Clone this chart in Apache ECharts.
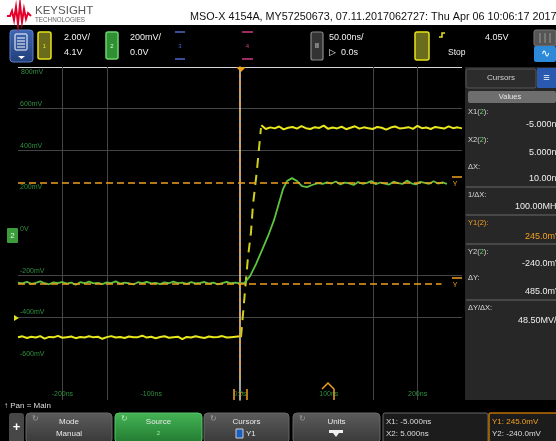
<!DOCTYPE html>
<html><head><meta charset="utf-8">
<script src="https://cdn.jsdelivr.net/npm/echarts@6/dist/echarts.min.js"></script>
<style>html,body{margin:0;padding:0;background:#000;overflow:hidden}#c{width:556px;height:441px}</style>
</head><body><div id="c"></div><script>
// ---- data ----
// Channel 1 (yellow, volts), 2.00 V/div
var ch1LowStart = -250, ch1LowEnd = 0;
var ch1LowV = [-0.88,-0.84,-0.92,-0.86,-0.90,-0.83,-0.95,-0.87,-0.89,-0.82,
 -0.91,-0.88,-0.85,-0.93,-0.87,-0.90,-0.84,-0.89,-0.86,-0.96,
 -0.88,-0.83,-0.90,-0.87,-0.92,-0.85,-0.89,-0.88,-0.81,-0.90,
 -0.86,-0.93,-0.87,-0.84,-0.91,-0.88,-0.86,-0.98,-0.87,-0.90,
 -0.84,-0.88,-0.92,-0.85,-0.89,-0.87,-0.83,-0.90,-0.88,-0.86,-0.84];
var ch1Edge = [[1.1,-0.88],[9.0,2.97],[12.4,4.17],[14.6,5.47],[19.1,7.15],[23.6,9.17]];
var ch1HighStart = 24, ch1HighEnd = 250;
var ch1HighV = [9.30,9.12,9.20,9.15,9.24,9.10,9.18,9.22,9.14,9.26,
 9.16,9.12,9.21,9.17,9.28,9.13,9.19,9.15,9.23,9.11,
 9.18,9.25,9.14,9.20,9.16,9.12,9.22,9.18,9.09,9.19,
 9.24,9.15,9.17,9.21,9.13,9.27,9.16,9.19,9.12,9.22,
 9.18,9.14,9.25,9.16,9.20,9.15];
// Channel 2 (green, mV), 200 mV/div
var ch2LowStart = -250, ch2LowEnd = 5;
var ch2LowMV = [-236,-240,-232,-242,-237,-230,-239,-244,-235,-238,
 -233,-241,-236,-246,-234,-239,-231,-240,-237,-243,
 -235,-238,-230,-241,-236,-239,-245,-234,-238,-232,
 -240,-237,-243,-235,-239,-231,-238,-236,-242,-234,
 -240,-237,-233,-241,-236,-244,-238,-232,-239,-236,-240,-237];
var ch2Rise = [[6.8,-238],[11.3,-205],[18.0,-147],[24.8,-80],[31.5,-13],[38.3,64],[43.9,146],
 [48.4,213],[52.9,252],[58.6,266],[64.2,252],[69.8,228],[75.5,223],[81.1,233],[87.9,242]];
var ch2HighStart = 93, ch2HighEnd = 233;
var ch2HighMV = [238,246,240,250,236,244,241,233,247,239,
 243,252,237,245,240,235,249,242,238,254,
 241,236,248,243,239,251,240,246,238];
// cursors
var cursorY1 = 245, cursorY2 = -240, cursorX = 0;
// tick labels
var timeLabels = {'-200':'-200ns','-100':'-100ns','0':'0.0s','100':'100ns','200':'200ns'};
var voltLabels = {'600':'600mV','400':'400mV','200':'200mV','0':'0V','-200':'-200mV','-400':'-400mV','-600':'-600mV'};

function spread(vals, t0, t1){
  var n = vals.length, out = [];
  for (var i=0;i<n;i++) out.push([t0 + (t1-t0)*i/(n-1), vals[i]]);
  return out;
}
var ch1Low = spread(ch1LowV, ch1LowStart, ch1LowEnd);
var ch1High = spread(ch1HighV, ch1HighStart, ch1HighEnd);
var ch2 = spread(ch2LowMV, ch2LowStart, ch2LowEnd).concat(ch2Rise, spread(ch2HighMV, ch2HighStart, ch2HighEnd));

// ---- chrome helpers ----
var FF = 'Liberation Sans';
var G = [];
function rect(x,y,w,h,fill,stroke,r,lw,z){G.push({type:'rect',z:z||1,shape:{x:x,y:y,width:w,height:h,r:r||0},style:{fill:fill||'none',stroke:stroke||null,lineWidth:lw||1}});}
function txt(x,y,text,size,fill,align,extra){G.push({type:'text',z:110,x:x,y:y,style:Object.assign({text:text,fill:fill,fontSize:size,fontFamily:FF,align:align||'left',verticalAlign:'middle'},extra||{})});}
function pl(pts,stroke,lw,z){G.push({type:'polyline',z:z||105,shape:{points:pts},style:{stroke:stroke,lineWidth:lw,fill:null}});}
function pg(pts,fill,z){G.push({type:'polygon',z:z||105,shape:{points:pts},style:{fill:fill}});}
function grad(a,b){return {type:'linear',x:0,y:0,x2:0,y2:1,colorStops:[{offset:0,color:a},{offset:1,color:b}]};}

// top white band + logo + title
rect(0,0,556,25,'#ffffff',null,0,1,0);
pl([[7,16],[10,16],[12,11],[14,20],[16,7],[18,24],[20,4],[22,22],[24,9],[26,19],[28,13],[31,16]],'#e4002b',2);
txt(35,11,'KEYSIGHT',11.5,'#58595b','left');
txt(35,20.5,'TECHNOLOGIES',6.3,'#666','left');
txt(190,17,'MSO-X 4154A, MY57250673, 07.11.2017062727: Thu Apr 06 10:06:17 2017',10.8,'#111','left');

// toolbar
rect(10,30,23,32,grad('#3f67b5','#223e7a'),'#5b7fc8',3,1,2);
rect(15,34,12,16,'none','#fff',1,1,3);
pl([[17,38],[25,38]],'#fff',1);pl([[17,41],[25,41]],'#fff',1);pl([[17,44],[25,44]],'#fff',1);pl([[17,47],[25,47]],'#fff',1);
pg([[18,56],[25,56],[21.5,59]],'#fff');
rect(38,32,13,27,'#6b6b1e','#e8e41a',2,1.5,2);
txt(44.5,46,'1',6,'#e8e41a','center');
txt(64,38,'2.00V/',9,'#f2f2f2');
txt(64,53,'4.1V',9,'#f2f2f2');
rect(106,32,12,27,'#2f8f33','#6fd36f',2,1.5,2);
txt(112,46,'2',6,'#cfffcf','center');
txt(130,38,'200mV/',9,'#f2f2f2');
txt(130,53,'0.0V',9,'#f2f2f2');
pl([[175,32],[185,32]],'#4a68c8',1.5);pl([[175,59],[185,59]],'#4a68c8',1.5);txt(180,46,'3',6,'#4a68c8','center');
pl([[242,32],[253,32]],'#d23a86',1.5);pl([[242,59],[253,59]],'#d23a86',1.5);txt(247.5,46,'4',6,'#d23a86','center');
rect(311,32,12,28,'#333','#8a8a8a',2,1.2,2);
txt(317,46,'II',7,'#eee','center');
txt(329,38,'50.00ns/',9,'#f2f2f2');
txt(329,53,'\u25B7  0.0s',9,'#f2f2f2');
rect(415,32,14,28,'#6b6b1e','#e8e41a',2,1.5,2);
pl([[439,37],[442,37],[442,33],[445,33]],'#e8e41a',1.5);
txt(448,53,'Stop',8.5,'#f2f2f2');
txt(485,38,'4.05V',9,'#f2f2f2');
rect(534,30,22,16,'#555','#777',2,1,2);
pl([[540,33],[540,43]],'#999',1);pl([[545,33],[545,43]],'#999',1);pl([[550,33],[550,43]],'#999',1);
rect(534,46,22,16,'#2d8ad8',null,2,1,2);
txt(545,54,'\u223F',11,'#fff','center');

// right panel
rect(465,67,91,333,'#272727',null,0,1,0);
rect(466,69,70,19,'#2c2c2c','#555',2,1,2);
txt(501,78,'Cursors',8,'#cfcfcf','center');
rect(537,68,19,20,'#2a5ab0',null,1,1,2);
txt(546.5,77.5,'\u2261',11,'#fff','center');
rect(468,91,88,12,'#6e6e6e',null,2,1,2);
txt(510,97,'Values',7.5,'#e6e6e6','center');
var rich = {w:{fill:'#dcdcdc',fontSize:7.5,fontFamily:FF},g:{fill:'#6fd36f',fontSize:7.5,fontFamily:FF},o:{fill:'#f0a020',fontSize:7.5,fontFamily:FF}};
function rl(y,t){G.push({type:'text',z:110,x:468,y:y,style:{text:t,rich:rich,align:'left',verticalAlign:'middle'}});}
rl(112,'{w|X1(}{g|2}{w|):}');
txt(561,125,'-5.000ns',9,'#eeeeee','right');
rl(140,'{w|X2(}{g|2}{w|):}');
txt(561,153,'5.000ns',9,'#eeeeee','right');
rl(167,'{w|\u0394X:}');
txt(561,179,'10.00ns',9,'#eeeeee','right');
[187,215,244,300].forEach(function(y){pl([[466,y],[556,y]],'#555',1.5,3);});
rl(195,'{w|1/\u0394X:}');
txt(561,207,'100.00MHz',9,'#eeeeee','right');
rl(223,'{o|Y1(2):}');
txt(561,237,'245.0mV',9,'#f0a020','right');
rl(252,'{w|Y2(}{g|2}{w|):}');
txt(561,264,'-240.0mV',9,'#eeeeee','right');
rl(278,'{w|\u0394Y:}');
txt(561,292,'485.0mV',9,'#eeeeee','right');
rl(308,'{w|\u0394Y/\u0394X:}');
txt(561,321,'48.50MV/s',9,'#eeeeee','right');

// plot decorations
rect(7,228,11,15,'#3c9c3c',null,1,1,105);
txt(12.5,235.5,'2',8,'#d8ffd8','center');
pg([[14,315],[19,318],[14,321]],'#e0e020');
pg([[236,67],[246,67],[241,72]],'#f0a020');
txt(21,72,'800mV',7,'#2f8f3f');
pl([[452,177],[462,177]],'#f0a020',1.5);txt(455,184,'Y',7,'#f0a020','center');
pl([[452,278],[462,278]],'#f0a020',1.5);txt(455,285,'Y',7,'#f0a020','center');
pl([[234,389],[234,400]],'#f0a020',1.5);pl([[247,389],[247,400]],'#f0a020',1.5);
txt(240.5,395,'T',8,'#f0a020','center');
pl([[322,389],[328,383],[334,389],[334,400]],'#f0a020',1.5);

// bottom
txt(4,406,'\u2191 Pan = Main',8,'#dddddd');
rect(9,413,15,30,'#474747',null,3,1,2);
txt(16.5,427,'+',13,'#ffffff','center',{fontWeight:'bold'});
function btn(x,w,title,sub,green){
  rect(x,413,w,30,green?grad('#45b455','#217a30'):grad('#5c5c5c','#383838'),green?'#58c468':'#666',4,1,2);
  txt(x+9,419,'\u21BB',8,green?'#aee8b4':'#9a9a9a','center');
  txt(x+w/2,422,title,8,'#e8e8e8','center');
  if(sub) txt(x+w/2,434,sub,8,'#e8e8e8','center');
}
btn(26,86,'Mode','Manual',false);
btn(115,87,'Source',null,true);
txt(158.5,433,'2',6,'#9ef09e','center');
btn(204,85,'Cursors',null,false);
rect(236,429,7,9,'#1a5fc0','#cccccc',0,1,106);
txt(246,433.5,'Y1',8,'#e8e8e8','left');
btn(293,87,'Units',null,false);
pg([[329,430],[343,430],[343,433],[339,433],[336,437],[333,433],[329,433]],'#f0f0f0',106);
rect(383,413,105,30,'#1c1c1c','#666',2,1,2);
txt(386,422,'X1: -5.000ns',8,'#dddddd');
txt(386,434,'X2: 5.000ns',8,'#dddddd');
rect(489,413,70,30,'#1c1c1c','#c07000',2,1.5,2);
txt(492,422,'Y1: 245.0mV',8,'#f0a020');
txt(492,434,'Y2: -240.0mV',8,'#dddddd');

var GRID = '#444';
var T = 'rgba(0,0,0,0)';
var chart = echarts.init(document.getElementById('c'), null, {renderer:'canvas'});
chart.setOption({
  backgroundColor:'#000',
  animation:false,
  grid:{left:18, top:67, width:444, height:333, show:true, backgroundColor:'#000', borderWidth:0},
  xAxis:{type:'value', min:-250, max:250, interval:50,
    axisLine:{show:false}, axisTick:{show:false},
    axisLabel:{inside:true, margin:2, verticalAlign:'bottom', color:'#2f8f3f', fontSize:7, fontFamily:FF,
      formatter:function(v){return timeLabels[String(v)]||'';}},
    splitLine:{show:true, lineStyle:{width:1, color:[T,GRID,GRID,T,T,T,T,T,GRID,GRID,T]}}},
  yAxis:[
    {type:'value', min:-800, max:800, interval:200, position:'left',
      axisLine:{show:true, lineStyle:{color:'#d8d8d8', width:1.5}}, axisTick:{show:false},
      axisLabel:{inside:true, margin:2, verticalAlign:'bottom', align:'left', padding:[0,0,1,0], color:'#2f8f3f', fontSize:7, fontFamily:FF,
        formatter:function(v){return voltLabels[String(v)]||'';}},
      splitLine:{show:true, lineStyle:{width:1, color:[T,T,GRID,GRID,T,T,GRID,GRID,'#d8d8d8']}}},
    {type:'value', min:-3.9, max:12.1, show:false, splitLine:{show:false}}
  ],
  series:[
    {type:'line', yAxisIndex:1, data:ch1Low, symbol:'none', lineStyle:{color:'#e8e81c', width:2}, z:3},
    {type:'line', yAxisIndex:1, data:ch1Edge, symbol:'none', lineStyle:{color:'#cfcf1e', width:2, type:[10,7]}, z:3},
    {type:'line', yAxisIndex:1, data:ch1High, symbol:'none', lineStyle:{color:'#e8e81c', width:2}, z:3},
    {type:'line', yAxisIndex:0, data:ch2, symbol:'none', lineStyle:{color:'#5ec43e', width:1.8}, z:4,
      markLine:{silent:true, symbol:['none','none'], label:{show:false}, animation:false,
        data:[
          [{coord:[-250,cursorY1], lineStyle:{color:'#f0a020', width:1.5, type:[7,4]}},{coord:[230,cursorY1]}],
          [{coord:[-250,cursorY2], lineStyle:{color:'#f0a020', width:1.5, type:[7,4]}},{coord:[227,cursorY2]}],
          [{coord:[cursorX,800], lineStyle:{color:'#f0a020', width:1.5, type:[4,3]}},{coord:[cursorX,-714]}]
        ]}}
  ],
  graphic:G
});
</script></body></html>
